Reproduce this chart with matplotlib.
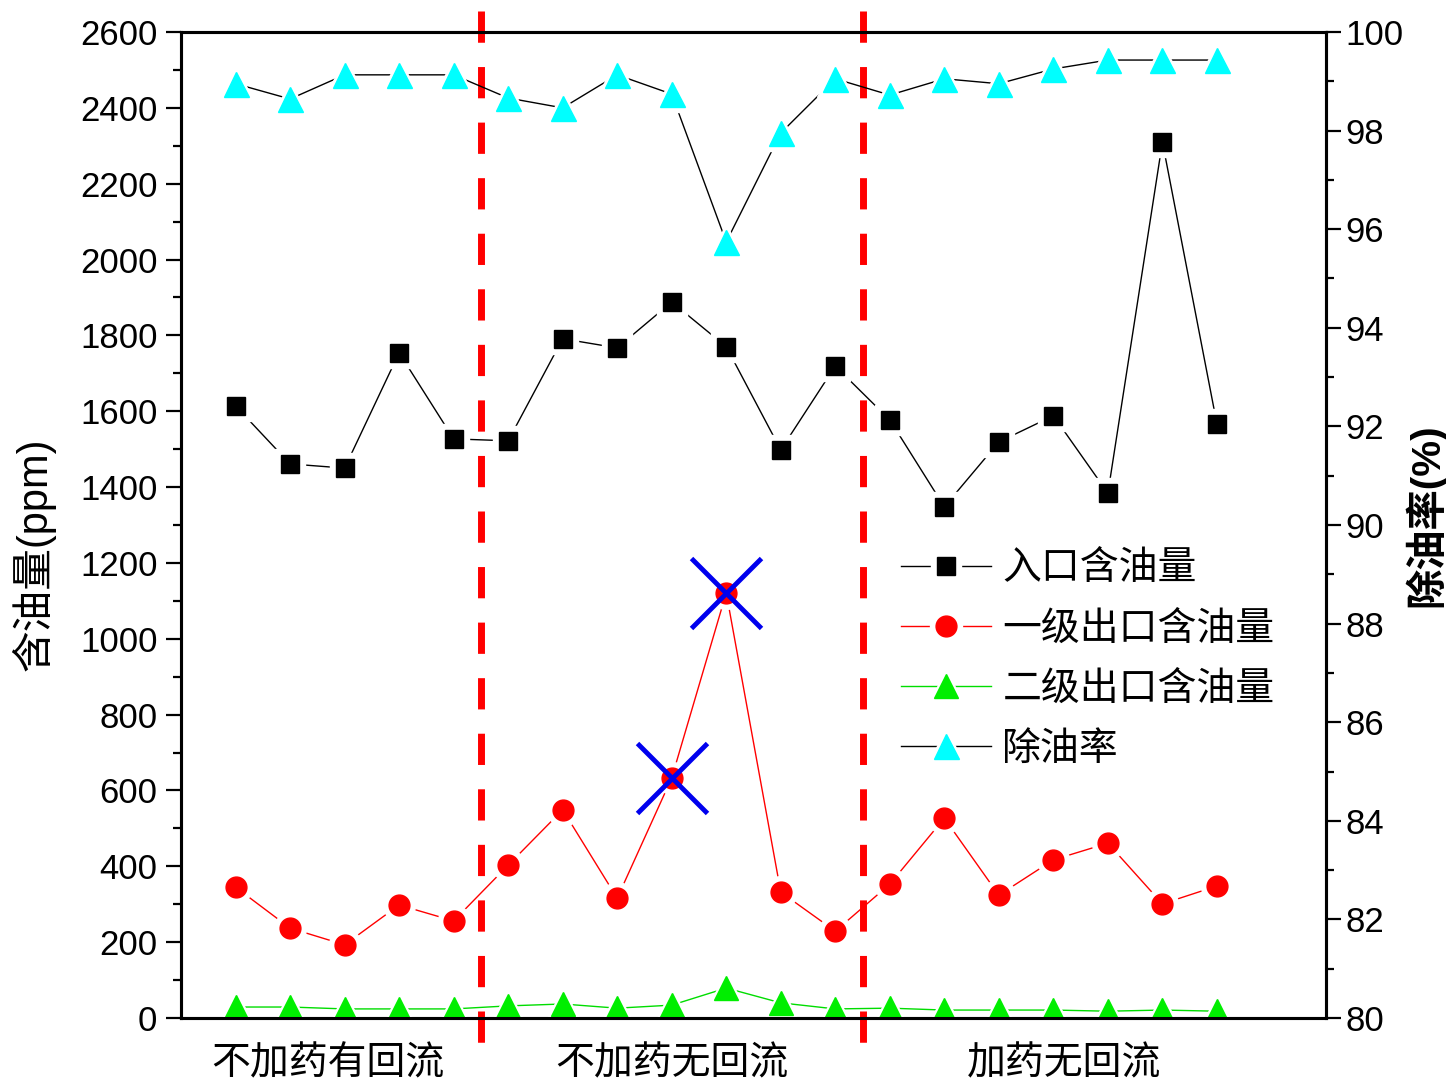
"""
含油量与除油率对比图（三种工况）
"""
import matplotlib
matplotlib.use('Agg')
import matplotlib.pyplot as plt
from matplotlib.legend_handler import HandlerTuple
from matplotlib.ticker import MultipleLocator
import numpy as np

plt.rcParams['font.family'] = ['Liberation Sans', 'Noto Sans CJK SC', 'DejaVu Sans']
plt.rcParams['axes.unicode_minus'] = False

# данные
samples = np.arange(1, 20)
inlet_oil = [1614, 1461, 1450, 1754, 1527, 1522, 1791, 1767, 1888, 1770,
             1498, 1719, 1577, 1348, 1519, 1588, 1384, 2310, 1566]
stage1_oil = [345, 237, 193, 298, 256, 403, 549, 316, 633, 1121,
              332, 229, 353, 527, 324, 417, 461, 301, 348]
stage2_oil = [29, 29, 24, 24, 24, 32, 37, 26, 34, 79,
              40, 24, 26, 21, 21, 21, 18, 21, 18]
removal_rate = [98.95, 98.64, 99.13, 99.13, 99.13, 98.66, 98.46, 99.13, 98.74, 95.74,
                97.95, 99.05, 98.72, 99.05, 98.95, 99.25, 99.43, 99.43, 99.43]
rejected = [9, 10]          # номера отброшенных точек (синие кресты)
boundaries = [5.5, 12.5]    # границы между режимами
stage_names = ['不加药有回流', '不加药无回流', '加药无回流']
stage_pos = [2.7, 9.0, 16.2]
series_names = ['入口含油量', '一级出口含油量', '二级出口含油量', '除油率']

fig = plt.figure(figsize=(14.46, 10.83), dpi=100)
ax = fig.add_axes([0.1252, 0.06, 0.7918, 0.9105])
ax2 = ax.twinx()


def plot_series(axis, x, y, line_color, face, marker, ms):
    """
        Линия с разрывом вокруг маркеров, как в Origin.
    """
    ln, = axis.plot(x, y, color=line_color, lw=1.0, zorder=2)
    halo, = axis.plot(x, y, ls='none', marker=marker, ms=ms + 8,
                      mfc='white', mec='white', zorder=3)
    mk, = axis.plot(x, y, ls='none', marker=marker, ms=ms,
                    mfc=face, mec=face, zorder=4)
    return (ln, halo, mk)


h1 = plot_series(ax, samples, inlet_oil, 'black', 'black', 's', 13)
h2 = plot_series(ax, samples, stage1_oil, 'red', 'red', 'o', 15)
h3 = plot_series(ax, samples, stage2_oil, '#00dd00', '#00ee00', '^', 17)
h4 = plot_series(ax2, samples, removal_rate, 'black', 'cyan', '^', 18)

idx = [i - 1 for i in rejected]
ax.plot(samples[idx], np.array(stage1_oil)[idx], ls='none', marker='x',
        ms=50, mew=3.5, color='#0000ee', zorder=6)

for b in boundaries:
    ax.plot([b, b], [2655, -85], color='red', lw=5, dashes=(4.5, 3.5),
            clip_on=False, zorder=5)

ax.set_xlim(0, 21)
ax.set_ylim(0, 2600)
ax2.set_ylim(80, 100)
ax.yaxis.set_major_locator(MultipleLocator(200))
ax.yaxis.set_minor_locator(MultipleLocator(100))
ax2.yaxis.set_major_locator(MultipleLocator(2))
ax2.yaxis.set_minor_locator(MultipleLocator(1))

ax.set_xticks(stage_pos)
ax.set_xticklabels(stage_names, fontsize=28)
ax.tick_params(axis='x', length=0, pad=20)
ax.tick_params(axis='y', which='major', direction='out', length=11,
               width=1.6, labelsize=25, pad=6)
ax.tick_params(axis='y', which='minor', direction='out', length=6, width=1.6)
ax2.tick_params(axis='y', which='major', direction='out', length=11,
                width=1.6, labelsize=25, pad=3)
ax2.tick_params(axis='y', which='minor', direction='out', length=6, width=1.6)

for axis in (ax, ax2):
    for sp in axis.spines.values():
        sp.set_linewidth(2.2)

ax.set_ylabel('含油量(ppm)', fontsize=30)
ax.yaxis.set_label_coords(-0.11, 0.47)
ax2.set_ylabel('除油率(%)', fontsize=29, fontweight='bold')
ax2.yaxis.set_label_coords(1.068, 0.51)

leg = ax2.legend([h1, h2, h3, h4], series_names,
                 handler_map={tuple: HandlerTuple(ndivide=1)},
                 loc='upper left', bbox_to_anchor=(0.612, 0.493),
                 frameon=False, fontsize=28, handlelength=2.3,
                 handletextpad=0.3, labelspacing=0.62, borderpad=0)

fig.savefig('out.png', dpi=100)
